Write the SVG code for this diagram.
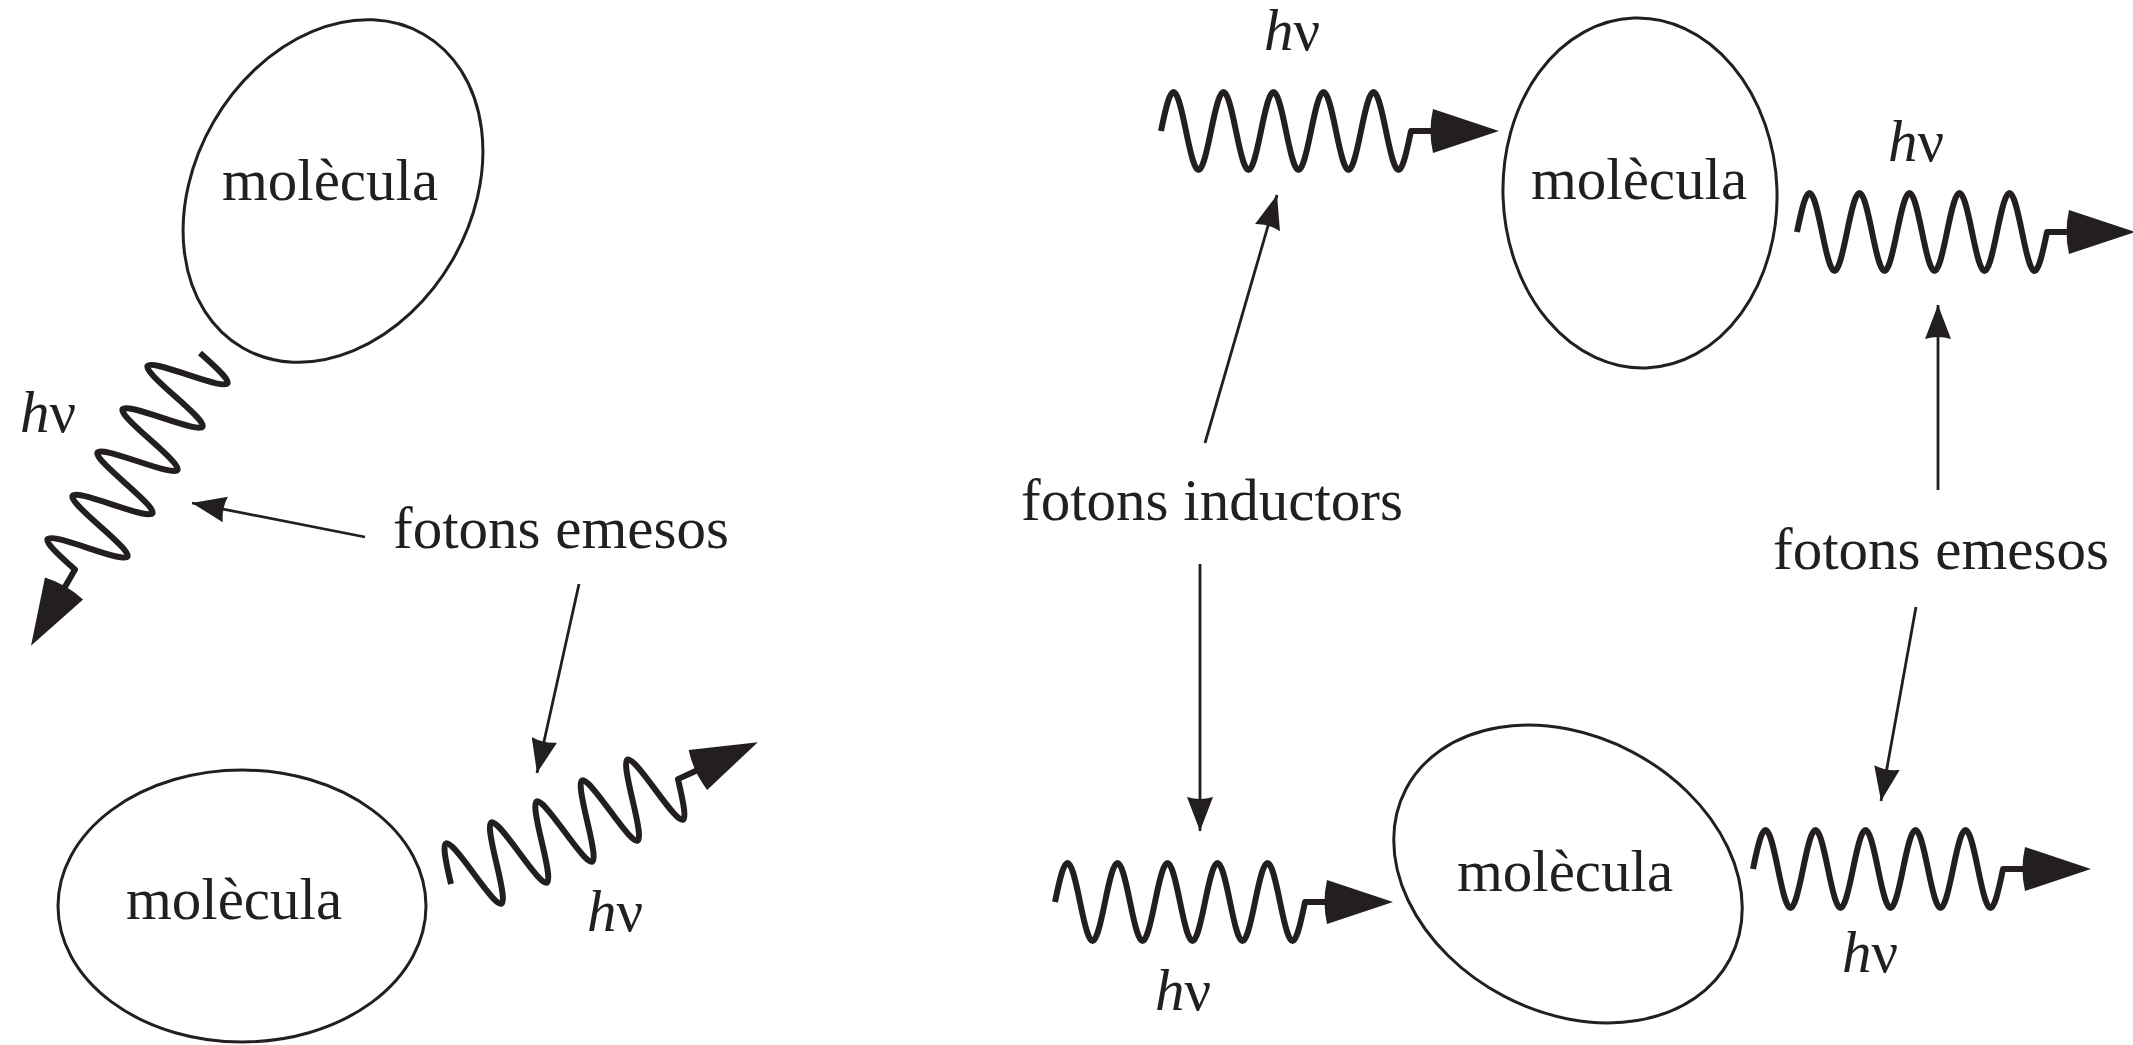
<svg xmlns="http://www.w3.org/2000/svg" xmlns:xlink="http://www.w3.org/1999/xlink" width="2133" height="1045" viewBox="0 0 2133 1045">
<style>
.t{font-family:"Liberation Serif","Times New Roman",serif;font-size:59px;fill:#231f20}
.c{text-anchor:middle}
.mol{fill:none;stroke:#231f20;stroke-width:3}
.wave{fill:none;stroke:#231f20;stroke-width:6;stroke-linejoin:round}
.head{fill:#231f20;stroke:none}
.conn{fill:none;stroke:#231f20;stroke-width:2.8}
</style>
<defs>
<g id="photon">
<path class="wave" d="M0,0 c10.6,-52 14.4,-52 25,0 c10.6,52 14.4,52 25,0 c10.6,-52 14.4,-52 25,0 c10.6,52 14.4,52 25,0 c10.6,-52 14.4,-52 25,0 c10.6,52 14.4,52 25,0 c10.6,-52 14.4,-52 25,0 c10.6,52 14.4,52 25,0 c10.6,-52 14.4,-52 25,0 c10.6,52 14.4,52 25,0 l26,0"/>
<path class="head" d="M272,-22 L338,0 L272,22 Q267,0 272,-22 Z"/>
</g>
<marker id="ah" viewBox="0 0 34 26" refX="34" refY="13" markerWidth="34" markerHeight="26" orient="auto" markerUnits="userSpaceOnUse">
<path d="M0,0 L34,13 L0,26 Q4,13 0,0 Z" fill="#231f20"/>
</marker>
</defs>

<g id="mol-tl">
<ellipse class="mol" cx="333" cy="191" rx="138" ry="181" transform="rotate(30 333 191)"/>
<text class="t c" x="330" y="200">molècula</text>
</g>
<g id="mol-bl">
<ellipse class="mol" cx="242" cy="906" rx="184" ry="136"/>
<text class="t c" x="234" y="919">molècula</text>
</g>
<g id="mol-tr">
<ellipse class="mol" cx="1640" cy="193" rx="137" ry="175" transform="rotate(-2 1640 193)"/>
<text class="t c" x="1639" y="199">molècula</text>
</g>
<g id="mol-br">
<ellipse class="mol" cx="1568" cy="874" rx="183" ry="138" transform="rotate(27.7 1568 874)"/>
<text class="t c" x="1565" y="891">molècula</text>
</g>

<g id="photon-tl">
<use xlink:href="#photon" href="#photon" transform="translate(200,353) rotate(120)"/>
<text class="t" x="20" y="432"><tspan font-style="italic">h</tspan>ν</text>
</g>
<g id="photon-bl">
<use xlink:href="#photon" href="#photon" transform="translate(451,884) rotate(-24.8)"/>
<text class="t" x="587" y="931"><tspan font-style="italic">h</tspan>ν</text>
</g>
<g id="photon-in-top">
<use xlink:href="#photon" href="#photon" transform="translate(1161,131)"/>
<text class="t" x="1264" y="50"><tspan font-style="italic">h</tspan>ν</text>
</g>
<g id="photon-out-top">
<use xlink:href="#photon" href="#photon" transform="translate(1797,232)"/>
<text class="t" x="1888" y="161"><tspan font-style="italic">h</tspan>ν</text>
</g>
<g id="photon-in-bottom">
<use xlink:href="#photon" href="#photon" transform="translate(1055,902)"/>
<text class="t" x="1155" y="1010"><tspan font-style="italic">h</tspan>ν</text>
</g>
<g id="photon-out-bottom">
<use xlink:href="#photon" href="#photon" transform="translate(1753,869)"/>
<text class="t" x="1842" y="972"><tspan font-style="italic">h</tspan>ν</text>
</g>

<g id="label-emesos-left"><text class="t c" x="561" y="548">fotons emesos</text></g>
<g id="label-inductors"><text class="t c" x="1212" y="520">fotons inductors</text></g>
<g id="label-emesos-right"><text class="t c" x="1941" y="569">fotons emesos</text></g>

<g id="connectors">
<line class="conn" x1="365" y1="537" x2="192" y2="503" marker-end="url(#ah)"/>
<line class="conn" x1="579" y1="584" x2="537" y2="773" marker-end="url(#ah)"/>
<line class="conn" x1="1205" y1="443" x2="1277" y2="195" marker-end="url(#ah)"/>
<line class="conn" x1="1200" y1="564" x2="1200" y2="831" marker-end="url(#ah)"/>
<line class="conn" x1="1938" y1="490" x2="1938" y2="305" marker-end="url(#ah)"/>
<line class="conn" x1="1916" y1="607" x2="1881" y2="801" marker-end="url(#ah)"/>
</g>
</svg>
